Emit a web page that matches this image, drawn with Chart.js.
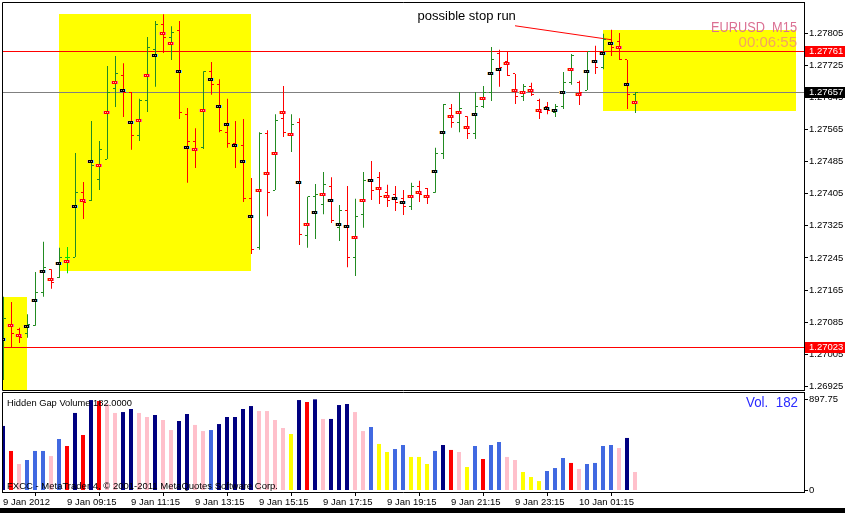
<!DOCTYPE html>
<html>
<head>
<meta charset="utf-8">
<title>EURUSD M15</title>
<script src="https://cdn.jsdelivr.net/npm/chart.js@4.4.0/dist/chart.umd.min.js"></script>
<style>
  html, body { margin: 0; padding: 0; background: #fff; }
  #wrap { position: relative; width: 845px; height: 513px; overflow: hidden; background: #fff; }
  #priceChart { position: absolute; left: 0; top: 0; }
  #volChart { position: absolute; left: 0; top: 392px; }
  #strip { position: absolute; left: 0; top: 508px; width: 845px; height: 5px; background: #000; }
</style>
</head>
<body>
<div id="wrap">
  <canvas id="priceChart" width="845" height="391"></canvas>
  <canvas id="volChart" width="845" height="116"></canvas>
  <div id="strip"></div>
</div>
<script>
// EURUSD M15, 80 bars from 9 Jan 2012 07:15
const opens = [
  1.27071,1.27076,1.27066,1.27056,1.27076,1.27158,1.27215,1.27195,1.27247,1.27247,
  1.27409,1.27389,1.27439,1.27491,1.27666,1.27700,1.27658,1.27549,1.27636,1.27765,
  1.27825,1.27793,1.27810,1.27603,1.27534,1.27519,1.27708,1.27678,1.27558,1.27531,
  1.27524,1.27392,1.27270,1.27556,1.27414,1.27591,1.27553,1.27581,1.27300,1.27399,
  1.27377,1.27424,1.27320,1.27362,1.27245,1.27354,1.27437,1.27444,1.27409,1.27402,
  1.27394,1.27374,1.27424,1.27417,1.27407,1.27506,1.27618,1.27583,1.27598,1.27556,
  1.27621,1.27656,1.27753,1.27733,1.27703,1.27646,1.27673,1.27636,1.27621,1.27606,
  1.27621,1.27681,1.27683,1.27663,1.27758,1.27720,1.27788,1.27783,1.27738,1.27651
];
const highs = [
  1.27148,1.27135,1.27071,1.27105,1.27210,1.27285,1.27217,1.27270,1.27272,1.27506,
  1.27434,1.27586,1.27536,1.27723,1.27748,1.27730,1.27658,1.27641,1.27795,1.27835,
  1.27852,1.27822,1.27835,1.27618,1.27568,1.27710,1.27733,1.27690,1.27641,1.27586,
  1.27591,1.27444,1.27558,1.27563,1.27603,1.27673,1.27603,1.27593,1.27397,1.27429,
  1.27459,1.27446,1.27377,1.27424,1.27392,1.27459,1.27486,1.27459,1.27427,1.27424,
  1.27414,1.27432,1.27437,1.27419,1.27519,1.27628,1.27628,1.27658,1.27598,1.27658,
  1.27673,1.27770,1.27763,1.27758,1.27703,1.27678,1.27681,1.27641,1.27633,1.27628,
  1.27708,1.27753,1.27686,1.27758,1.27773,1.27803,1.27813,1.27805,1.27738,1.27658
];
const lows = [
  1.26941,1.27021,1.27033,1.27046,1.27076,1.27148,1.27168,1.27195,1.27207,1.27247,
  1.27342,1.27387,1.27414,1.27491,1.27621,1.27596,1.27514,1.27536,1.27608,1.27671,
  1.27755,1.27738,1.27591,1.27432,1.27469,1.27516,1.27651,1.27558,1.27519,1.27469,
  1.27384,1.27255,1.27265,1.27349,1.27414,1.27546,1.27509,1.27277,1.27270,1.27292,
  1.27354,1.27332,1.27287,1.27222,1.27200,1.27320,1.27389,1.27379,1.27372,1.27362,
  1.27352,1.27364,1.27384,1.27379,1.27407,1.27491,1.27569,1.27558,1.27541,1.27541,
  1.27618,1.27636,1.27671,1.27698,1.27628,1.27636,1.27648,1.27591,1.27603,1.27596,
  1.27616,1.27676,1.27626,1.27663,1.27703,1.27715,1.27748,1.27738,1.27616,1.27606
];
const closes = [
  1.27095,1.27056,1.27046,1.27080,1.27158,1.27220,1.27183,1.27247,1.27247,1.27409,
  1.27384,1.27476,1.27514,1.27656,1.27703,1.27658,1.27551,1.27638,1.27770,1.27827,
  1.27793,1.27807,1.27608,1.27534,1.27514,1.27710,1.27678,1.27561,1.27531,1.27524,
  1.27392,1.27267,1.27556,1.27409,1.27588,1.27558,1.27576,1.27304,1.27397,1.27404,
  1.27427,1.27339,1.27362,1.27245,1.27349,1.27437,1.27414,1.27399,1.27389,1.27382,
  1.27374,1.27424,1.27404,1.27397,1.27506,1.27626,1.27581,1.27618,1.27556,1.27621,
  1.27658,1.27740,1.27720,1.27698,1.27648,1.27671,1.27651,1.27608,1.27613,1.27623,
  1.27683,1.27750,1.27658,1.27758,1.27720,1.27788,1.27770,1.27738,1.27651,1.27657
];
// indicator marks (b = black, r = red)
const marks = [
  1.27043,1.27076,1.27051,1.27073,1.27140,1.27212,1.27190,1.27230,1.27237,1.27374,
  1.27387,1.27484,1.27474,1.27606,1.27683,1.27661,1.27583,1.27586,1.27700,1.27750,
  1.27803,1.27778,1.27710,1.27521,1.27516,1.27611,1.27690,1.27623,1.27578,1.27524,
  1.27486,1.27347,1.27412,1.27456,1.27506,1.27608,1.27553,1.27434,1.27329,1.27359,
  1.27404,1.27387,1.27329,1.27322,1.27295,1.27389,1.27437,1.27419,1.27399,1.27392,
  1.27382,1.27397,1.27409,1.27397,1.27459,1.27558,1.27596,1.27608,1.27569,1.27601,
  1.27643,1.27703,1.27715,1.27728,1.27663,1.27656,1.27663,1.27613,1.27616,1.27611,
  1.27658,1.27713,1.27653,1.27708,1.27735,1.27755,1.27778,1.27768,1.27676,1.27631
];
const markKind = ('brrbbbrbrb' + 'rbrrrbbrrb' + 'rrbbrrbbbb' + 'bbrrrrrbrb' +
                  'rbbbrrbrrb' + 'brrrbbrrrb' + 'rbbrrrrrbb' + 'brrbbbbrbr').split('');

// Hidden Gap Volume histogram (n navy, r red, p pink, b blue, y yellow)
const volumes = [
  635,389,261,300,389,389,339,507,438,763,
  546,890,881,851,763,772,802,763,723,743,
  694,595,684,753,645,585,595,654,723,723,
  802,831,782,782,694,615,556,890,871,897,
  704,704,841,851,772,585,625,458,379,408,
  448,330,330,261,389,448,399,379,231,438,
  310,448,477,330,300,182,133,93,192,221,
  320,271,212,261,271,438,448,418,517,182
];
const volKind = ('nrpbbbpbrn' + 'rnrppnnppn' + 'ppnnppbnnn' + 'nnppppynrn' +
                 'pnnnppbyyb' + 'byyybnrpyb' + 'rbbppyyybb' + 'brpbbbbpnp').split('');

const priceTicks = [1.26925, 1.27005, 1.27085, 1.27165, 1.27245, 1.27325,
                    1.27405, 1.27485, 1.27565, 1.27645, 1.27725, 1.27805];
const volTicks = [0, 897.75];
const timeTickBars = [0, 8, 16, 24, 32, 40, 48, 56, 64, 72];
const timeTickLabels = ['9 Jan 2012', '9 Jan 09:15', '9 Jan 11:15', '9 Jan 13:15', '9 Jan 15:15',
                        '9 Jan 17:15', '9 Jan 19:15', '9 Jan 21:15', '9 Jan 23:15', '10 Jan 01:15'];

// horizontal levels
const levelPrices = [1.27761, 1.27657, 1.27023];
const levelColors = ['#FF0000', '#808080', '#FF0000'];
const levelLabelBg = ['#FF0000', '#000000', '#FF0000'];

// yellow rectangles (bar index / price)
const boxFrom = [6.94, -0.06, 74.94];
const boxTo = [30.94, 2.94, 99.06];
const boxTop = [1.27852, 1.27148, 1.27813];
const boxBottom = [1.27212, 1.26900, 1.27611];

// trend line "possible stop run"
const trendX = [63.94, 76.06];
const trendY = [1.27823, 1.27788];
const noteX = 57.9, noteY = 1.27837;

Chart.defaults.font.family = "'Liberation Sans', Arial, sans-serif";
Chart.defaults.color = '#000';

const GREEN = '#228B22', RED = '#FF0000', LIME = '#00E000';
function barColor(i) {
  if (closes[i] > opens[i]) return GREEN;
  if (closes[i] < opens[i]) return RED;
  return LIME;
}
function tickImage(color, left) {
  const c = document.createElement('canvas');
  c.width = 7; c.height = 1;
  const g = c.getContext('2d');
  g.fillStyle = color;
  g.fillRect(left ? 1 : 4, 0, 2, 1);
  return c;
}
function markImage(kind) {
  const c = document.createElement('canvas');
  c.width = 9; c.height = 3;
  const g = c.getContext('2d');
  const main = kind === 'b' ? '#000000' : '#FF0000';
  g.fillStyle = main; g.fillRect(0, 0, 7, 3);
  g.fillStyle = kind === 'b' ? '#F5C27A' : '#FFB468'; g.fillRect(0, 0, 1, 3);
  g.fillStyle = kind === 'b' ? '#7FD4F5' : '#FF6A9A'; g.fillRect(6, 0, 1, 3);
  g.fillStyle = kind === 'b' ? '#8C8C8C' : '#FFB0B0'; g.fillRect(2, 1, 1, 1); g.fillRect(4, 1, 1, 1);
  return c;
}
const openImg = {}, closeImg = {};
[GREEN, RED, LIME].forEach(col => { openImg[col] = tickImage(col, true); closeImg[col] = tickImage(col, false); });
const markImg = { b: markImage('b'), r: markImage('r') };

const volColors = { n: '#000080', r: '#FF0000', p: '#FFC0CB', b: '#4169E1', y: '#FFFF00' };

// keep scale label padding from shrinking the panes
function noPad(s) { s.paddingTop = 0; s.paddingBottom = 0; s.paddingLeft = 0; s.paddingRight = 0; }

const crisp = {
  id: 'crisp',
  beforeDatasetsDraw(chart) { chart.ctx.imageSmoothingEnabled = false; }
};

const priceDecor = {
  id: 'priceDecor',
  beforeDatasetsDraw(chart) {
    const { ctx, chartArea: a, scales: { x, y } } = chart;
    ctx.save();
    ctx.beginPath();
    ctx.rect(a.left, a.top, a.right - a.left, a.bottom - a.top);
    ctx.clip();
    ctx.fillStyle = '#FFFF00';
    boxFrom.forEach((b, k) => {
      const x1 = Math.round(x.getPixelForValue(b)), x2 = Math.round(x.getPixelForValue(boxTo[k]));
      const y1 = Math.round(y.getPixelForValue(boxTop[k])), y2 = Math.round(y.getPixelForValue(boxBottom[k]));
      ctx.fillRect(x1, y1, x2 - x1, y2 - y1);
    });
    ctx.lineWidth = 1;
    levelPrices.forEach((p, k) => {
      const py = Math.round(y.getPixelForValue(p)) + 0.5;
      ctx.strokeStyle = levelColors[k];
      ctx.beginPath(); ctx.moveTo(a.left, py); ctx.lineTo(a.right, py); ctx.stroke();
    });
    ctx.restore();
  },
  afterDraw(chart) {
    const { ctx, chartArea: a, scales: { x, y } } = chart;
    ctx.save();
    ctx.strokeStyle = '#000';
    ctx.lineWidth = 1;
    ctx.beginPath();
    ctx.moveTo(a.right, a.top + 0.5); ctx.lineTo(a.left + 0.5, a.top + 0.5);
    ctx.lineTo(a.left + 0.5, a.bottom - 0.5); ctx.lineTo(a.right, a.bottom - 0.5);
    ctx.stroke();

    // current level labels on the price axis
    ctx.font = "9.5px 'Liberation Sans', Arial, sans-serif";
    ctx.textBaseline = 'middle';
    ctx.textAlign = 'left';
    levelPrices.forEach((p, k) => {
      const py = Math.round(y.getPixelForValue(p));
      ctx.fillStyle = levelLabelBg[k];
      ctx.fillRect(a.right + 1, py - 5, 40, 11);
      ctx.fillStyle = '#fff';
      ctx.fillText(p.toFixed(5), a.right + 5, py + 0.5);
    });

    // note text
    ctx.fillStyle = '#000';
    ctx.font = "13px 'Liberation Sans', Arial, sans-serif";
    ctx.textAlign = 'center';
    ctx.textBaseline = 'alphabetic';
    ctx.fillText('possible stop run', x.getPixelForValue(noteX), y.getPixelForValue(noteY));

    // symbol / timer corner
    ctx.textAlign = 'right';
    ctx.font = "15px 'Liberation Sans', Arial, sans-serif";
    ctx.fillStyle = '#DB7093';
    ctx.fillText('EURUSD  M15', a.right - 7, a.top + 29.5, 86);
    ctx.fillStyle = '#F4A460';
    ctx.fillText('00:06:55', a.right - 7, a.top + 44.5);
    ctx.restore();
  }
};

const priceChart = new Chart(document.getElementById('priceChart'), {
  type: 'bar',
  data: {
    datasets: [
      {
        type: 'scatter', label: 'marks', order: 0,
        data: marks.map((v, i) => ({ x: i, y: v })),
        pointStyle: c => c.dataIndex === undefined ? 'circle' : markImg[markKind[c.dataIndex]],
        pointRadius: 3
      },
      {
        type: 'scatter', label: 'open', order: 1,
        data: opens.map((v, i) => ({ x: i, y: v })),
        pointStyle: c => c.dataIndex === undefined ? 'circle' : openImg[barColor(c.dataIndex)],
        pointRadius: 3
      },
      {
        type: 'scatter', label: 'close', order: 1,
        data: closes.map((v, i) => ({ x: i, y: v })),
        pointStyle: c => c.dataIndex === undefined ? 'circle' : closeImg[barColor(c.dataIndex)],
        pointRadius: 3
      },
      {
        type: 'bar', label: 'range', order: 2,
        data: highs.map((h, i) => ({ x: i, y: [lows[i], h] })),
        backgroundColor: c => c.dataIndex === undefined ? GREEN : barColor(c.dataIndex),
        barThickness: 1, borderWidth: 0, inflateAmount: 0
      },
      {
        type: 'line', label: 'trend', order: 3,
        data: trendX.map((v, i) => ({ x: v, y: trendY[i] })),
        borderColor: '#FF0000', borderWidth: 1, pointRadius: 0
      }
    ]
  },
  options: {
    responsive: false,
    animation: false,
    events: [],
    layout: { autoPadding: false, padding: { left: 2, top: 2, right: 0, bottom: 0 } },
    plugins: { legend: { display: false }, tooltip: { enabled: false } },
    scales: {
      x: { type: 'linear', display: false, offset: false, min: -0.1875, max: 100.0625 },
      y: {
        type: 'linear', position: 'right', min: 1.269136, max: 1.278822,
        afterBuildTicks: s => { s.ticks = priceTicks.map(v => ({ value: v })); },
        afterFit: s => { s.width = 41; noPad(s); },
        grid: { drawOnChartArea: false, drawTicks: true, tickLength: 4, color: '#000' },
        border: { display: true, color: '#000' },
        ticks: { font: { size: 9.5 }, padding: 1, callback: v => v.toFixed(5) }
      }
    }
  },
  plugins: [crisp, priceDecor]
});

const volDecor = {
  id: 'volDecor',
  afterDraw(chart) {
    const { ctx, chartArea: a } = chart;
    ctx.save();
    ctx.strokeStyle = '#000';
    ctx.lineWidth = 1;
    ctx.beginPath();
    ctx.moveTo(a.right, a.top + 0.5); ctx.lineTo(a.left + 0.5, a.top + 0.5);
    ctx.lineTo(a.left + 0.5, a.bottom + 1);
    ctx.stroke();

    ctx.fillStyle = '#000';
    ctx.textAlign = 'left';
    ctx.textBaseline = 'alphabetic';
    ctx.font = "9.5px 'Liberation Sans', Arial, sans-serif";
    ctx.fillText('Hidden Gap Volume ' + volumes[volumes.length - 1].toFixed(4), a.left + 5, a.top + 14, 125);
    ctx.fillText('FXCC - MetaTrader 4, \u00A9 2001-2011 MetaQuotes Software Corp.', a.left + 5, a.top + 97, 283);

    ctx.textAlign = 'right';
    ctx.font = "15px 'Liberation Sans', Arial, sans-serif";
    ctx.fillStyle = '#2B2BFF';
    ctx.fillText('Vol.  ' + volumes[volumes.length - 1], a.right - 6, a.top + 14.5, 52);
    ctx.restore();
  }
};

const volChart = new Chart(document.getElementById('volChart'), {
  type: 'bar',
  data: {
    datasets: [{
      label: 'Hidden Gap Volume',
      data: volumes.map((v, i) => ({ x: i, y: v })),
      backgroundColor: volKind.map(k => volColors[k]),
      barThickness: 4, borderWidth: 0, inflateAmount: 0
    }]
  },
  options: {
    responsive: false,
    animation: false,
    events: [],
    layout: { autoPadding: false, padding: { left: 2, top: 0, right: 0, bottom: 0 } },
    plugins: { legend: { display: false }, tooltip: { enabled: false } },
    scales: {
      x: {
        type: 'linear', position: 'bottom', offset: false, min: -0.125, max: 100.125,
        afterBuildTicks: s => { s.ticks = timeTickBars.map(v => ({ value: v })); },
        afterFit: s => { s.height = 16; noPad(s); },
        grid: { drawOnChartArea: false, drawTicks: true, tickLength: 4, color: '#000' },
        border: { display: true, color: '#000' },
        ticks: {
          font: { size: 9.5 }, padding: 1, align: 'start', autoSkip: false, maxRotation: 0,
          callback: (v, idx) => timeTickLabels[idx]
        }
      },
      y: {
        type: 'linear', position: 'right', min: -14.76, max: 969.24,
        afterBuildTicks: s => { s.ticks = volTicks.map(v => ({ value: v })); },
        afterFit: s => { s.width = 41; noPad(s); },
        grid: { drawOnChartArea: false, drawTicks: true, tickLength: 4, color: '#000' },
        border: { display: true, color: '#000' },
        ticks: { font: { size: 9.5 }, padding: 1, callback: v => (v === 0 ? '0' : v.toFixed(2)) }
      }
    }
  },
  plugins: [volDecor]
});
</script>
</body>
</html>
